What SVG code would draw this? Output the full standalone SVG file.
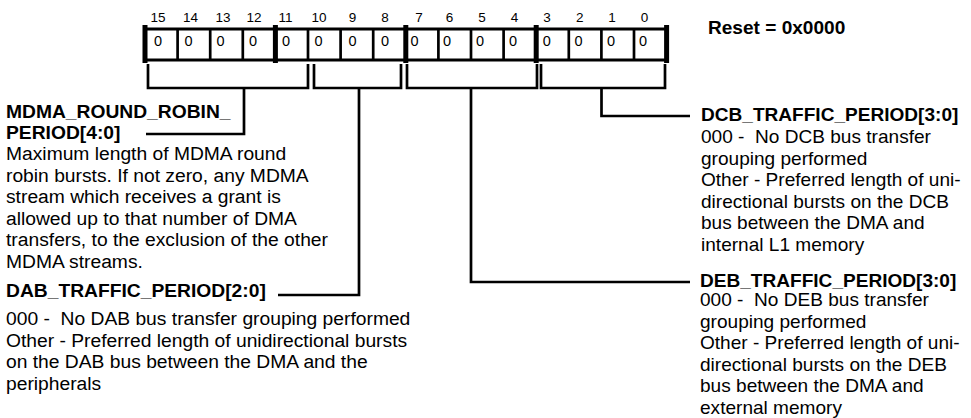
<svg xmlns="http://www.w3.org/2000/svg" width="971" height="418" viewBox="0 0 971 418">
<style>
text{font-family:"Liberation Sans",Arial,Helvetica,sans-serif;fill:#000}
.b{font-weight:bold;font-size:18px}
.t{font-size:18px}
.bit{font-size:13.5px;text-anchor:middle}
.val{font-size:14.5px;text-anchor:middle}
.ln{fill:none;stroke:#000;stroke-width:2.7}
.sep{stroke:#000;stroke-width:2.7}
</style>
<rect width="971" height="418" fill="#fff"/>
<g id="register">
<rect x="145" y="29" width="521.6" height="31" fill="#fff" stroke="#000" stroke-width="3"/>
<g class="sep">
<line x1="177.6" y1="29" x2="177.6" y2="60"/><line x1="210.2" y1="29" x2="210.2" y2="60"/><line x1="242.8" y1="29" x2="242.8" y2="60"/>
<line x1="308" y1="29" x2="308" y2="60"/><line x1="340.6" y1="29" x2="340.6" y2="60"/><line x1="373.2" y1="29" x2="373.2" y2="60"/>
<line x1="438.4" y1="29" x2="438.4" y2="60"/><line x1="471" y1="29" x2="471" y2="60"/><line x1="503.6" y1="29" x2="503.6" y2="60"/>
<line x1="568.8" y1="29" x2="568.8" y2="60"/><line x1="601.4" y1="29" x2="601.4" y2="60"/><line x1="634" y1="29" x2="634" y2="60"/>
</g>
<g fill="#000">
<rect x="142.5" y="25" width="5" height="38"/><rect x="272.9" y="25" width="5" height="38"/><rect x="403.3" y="25" width="5" height="38"/><rect x="533.7" y="25" width="5" height="38"/><rect x="664.1" y="25" width="5" height="38"/>
</g>
<text class="bit" x="158" y="22">15</text><text class="bit" x="190.4" y="22">14</text><text class="bit" x="223" y="22">13</text><text class="bit" x="254" y="22">12</text>
<text class="bit" x="285.5" y="22">11</text><text class="bit" x="319" y="22">10</text><text class="bit" x="352.6" y="22">9</text><text class="bit" x="385" y="22">8</text>
<text class="bit" x="419" y="22">7</text><text class="bit" x="449.4" y="22">6</text><text class="bit" x="482" y="22">5</text><text class="bit" x="514.6" y="22">4</text>
<text class="bit" x="547" y="22">3</text><text class="bit" x="579.8" y="22">2</text><text class="bit" x="612" y="22">1</text><text class="bit" x="644.5" y="22">0</text>
<text class="val" x="158" y="46">0</text><text class="val" x="188.5" y="46">0</text><text class="val" x="220.5" y="46">0</text><text class="val" x="253" y="46">0</text>
<text class="val" x="286" y="46">0</text><text class="val" x="318.5" y="46">0</text><text class="val" x="352.5" y="46">0</text><text class="val" x="385" y="46">0</text>
<text class="val" x="414.5" y="46">0</text><text class="val" x="447" y="46">0</text><text class="val" x="480" y="46">0</text><text class="val" x="513" y="46">0</text>
<text class="val" x="546.7" y="46">0</text><text class="val" x="578.5" y="46">0</text><text class="val" x="611" y="46">0</text><text class="val" x="643" y="46">0</text>
</g>
<g id="reset" transform="translate(708 0) scale(1.06 1)">
<text class="b" x="0" y="34">Reset = 0x0000</text>
</g>
<g id="connectors">
<path class="ln" d="M148 64V88H308V64"/>
<path class="ln" d="M314 64V88H401V64"/>
<path class="ln" d="M407 64V88H537V64"/>
<path class="ln" d="M541 64V88H665V64"/>
<path class="ln" d="M244 88V134H146"/>
<path class="ln" d="M359 88V295H278"/>
<path class="ln" d="M471 88V282H690"/>
<path class="ln" d="M601.5 88V116H690"/>
</g>
<g id="mdma" transform="translate(6 0) scale(1.07 1)">
<text class="b" x="0" y="118">MDMA_ROUND_ROBIN_</text>
<text class="b" x="0" y="139">PERIOD[4:0]</text>
<text class="t" x="0" y="160">Maximum length of MDMA round</text>
<text class="t" x="0" y="181.6">robin bursts. If not zero, any MDMA</text>
<text class="t" x="0" y="203.2">stream which receives a grant is</text>
<text class="t" x="0" y="224.8">allowed up to that number of DMA</text>
<text class="t" x="0" y="246.4">transfers, to the exclusion of the other</text>
<text class="t" x="0" y="268">MDMA streams.</text>
</g>
<g id="dab" transform="translate(6 0) scale(1.07 1)">
<text class="b" x="0" y="297">DAB_TRAFFIC_PERIOD[2:0]</text>
<text class="t" x="0" y="325">000 -&#160; No DAB bus transfer grouping performed</text>
<text class="t" x="0" y="346.6">Other - Preferred length of unidirectional bursts</text>
<text class="t" x="0" y="368.2">on the DAB bus between the DMA and the</text>
<text class="t" x="0" y="389.8">peripherals</text>
</g>
<g id="dcb" transform="translate(701 0) scale(1.06 1)">
<text class="b" x="0" y="121">DCB_TRAFFIC_PERIOD[3:0]</text>
<text class="t" x="0" y="143">000 -&#160; No DCB bus transfer</text>
<text class="t" x="0" y="164.6">grouping performed</text>
<text class="t" x="0" y="186.2">Other - Preferred length of uni-</text>
<text class="t" x="0" y="207.8">directional bursts on the DCB</text>
<text class="t" x="0" y="229.4">bus between the DMA and</text>
<text class="t" x="0" y="251">internal L1 memory</text>
</g>
<g id="deb" transform="translate(700 0) scale(1.06 1)">
<text class="b" x="0" y="287">DEB_TRAFFIC_PERIOD[3:0]</text>
<text class="t" x="0" y="306.5">000 -&#160; No DEB bus transfer</text>
<text class="t" x="0" y="328">grouping performed</text>
<text class="t" x="0" y="349.5">Other - Preferred length of uni-</text>
<text class="t" x="0" y="371">directional bursts on the DEB</text>
<text class="t" x="0" y="392.5">bus between the DMA and</text>
<text class="t" x="0" y="414">external memory</text>
</g>
</svg>
